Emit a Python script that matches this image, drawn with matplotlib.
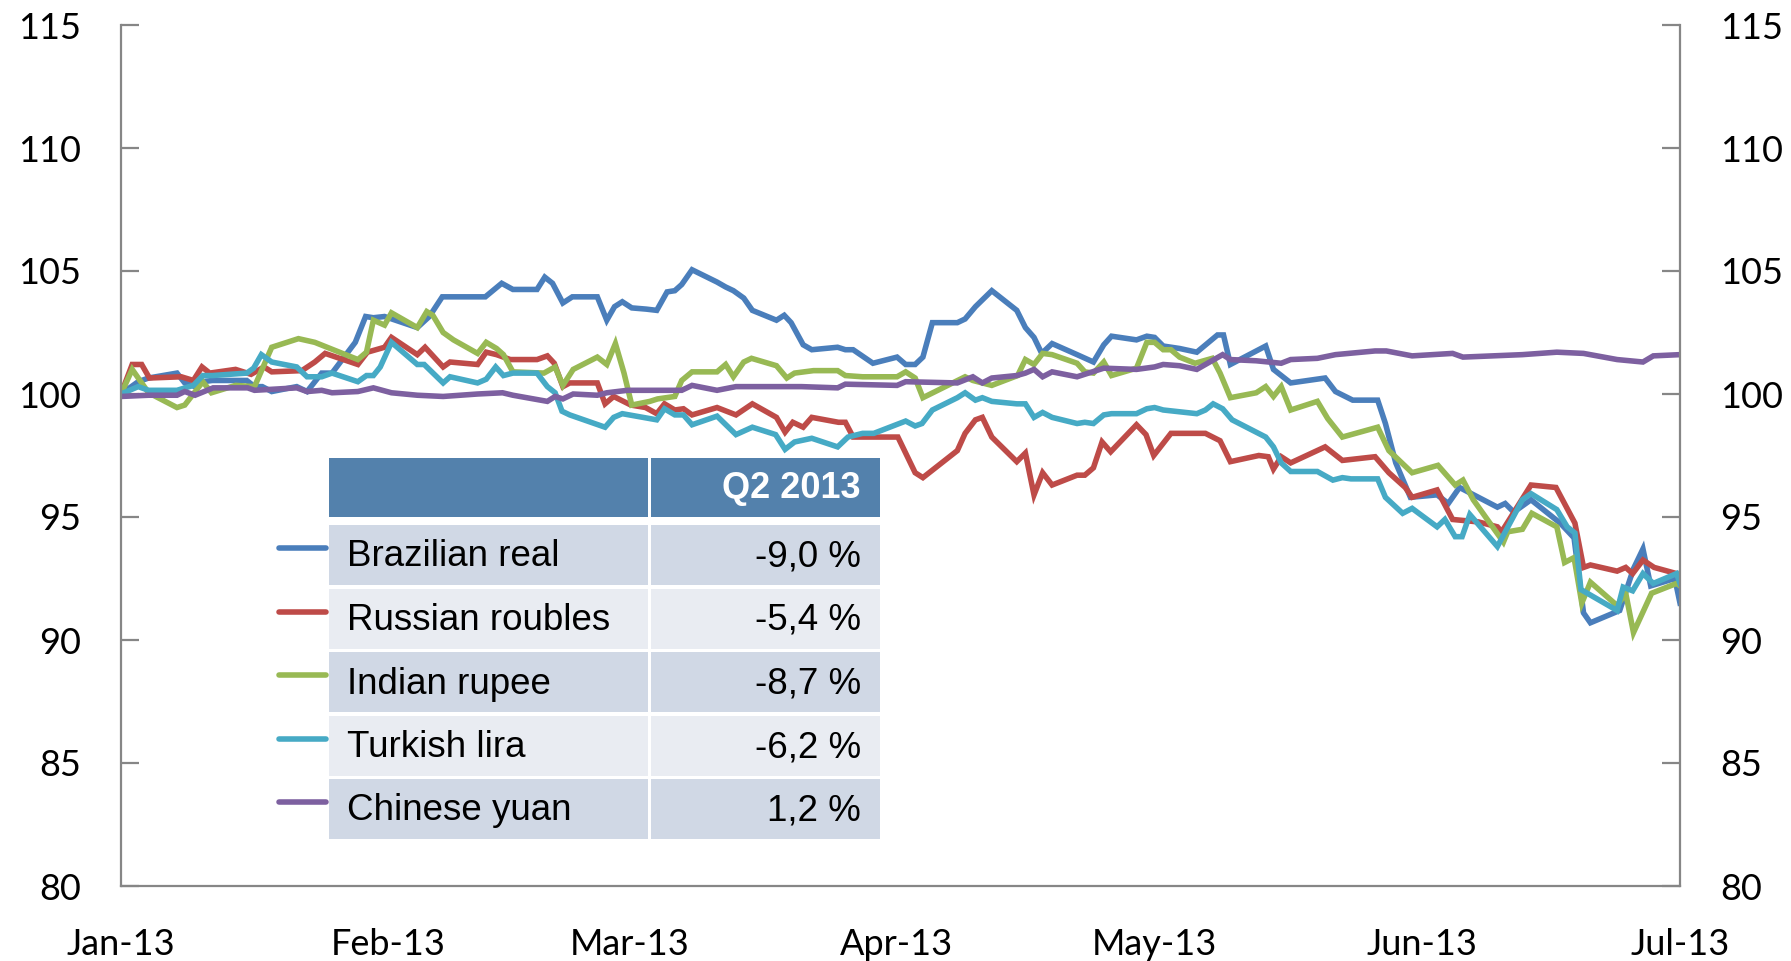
import pandas as pd
import matplotlib.pyplot as plt
from matplotlib.patches import Rectangle

# index, 1 Jan 2013 = 100; x values are days after 1 Jan 2013
START = pd.Timestamp('2013-01-01')
END = pd.Timestamp('2013-07-01')

brl_days = [0, 2.0, 3.2, 6.5, 7.4, 8.6, 9.5, 10.6, 14.6, 15.5, 16.4, 17.5, 20.4, 21.6, 23.3, 24.5,
            27.2, 28.4, 29.3, 30.6, 34.4, 35.8, 37.3, 42.3, 44.2, 45.5, 48.3, 49.2, 50.1, 51.3,
            52.4, 55.3, 56.4, 57.3, 58.2, 59.3, 61.0, 62.2, 63.4, 64.3, 65.1, 66.3, 69.2, 70.2,
            71.1, 72.3, 73.3, 76.1, 77.0, 77.8, 79.2, 80.2, 83.2, 84.1, 85.0, 87.3, 90.1, 91.1,
            92.2, 93.1, 94.2, 97.1, 98.0, 99.2, 101.1, 104.0, 105.0, 106.0, 106.9, 108.1, 111.0,
            112.9, 114.1, 115.0, 117.9, 119.1, 120.0, 121.0, 122.9, 124.9, 127.3, 128.0, 128.8,
            132.9, 133.8, 135.8, 139.8, 141.0, 143.0, 145.9, 146.8, 148.0, 149.7, 152.8, 154.1,
            155.4, 159.8, 160.7, 161.7, 163.7, 167.1, 168.7, 169.8, 170.6, 174.0, 175.6, 176.7,
            177.6, 180.4, 181]
brl_vals = [100.0, 100.5, 100.65, 100.85, 100.45, 100.3, 100.5, 100.55, 100.55, 100.3, 100.3, 100.1,
            100.3, 100.1, 100.85, 100.85, 102.1, 103.15, 103.1, 103.15, 102.7, 103.15, 103.95,
            103.95, 104.5, 104.25, 104.25, 104.75, 104.5, 103.7, 103.95, 103.95, 103.0, 103.55,
            103.75, 103.5, 103.45, 103.4, 104.15, 104.2, 104.45, 105.05, 104.55, 104.35, 104.2,
            103.9, 103.4, 103.0, 103.2, 102.9, 102.0, 101.8, 101.9, 101.8, 101.8, 101.25, 101.5,
            101.2, 101.2, 101.5, 102.9, 102.9, 103.05, 103.55, 104.2, 103.4, 102.7, 102.3, 101.65,
            102.05, 101.6, 101.3, 102.0, 102.35, 102.2, 102.35, 102.3, 101.95, 101.85, 101.7,
            102.4, 102.4, 101.2, 101.95, 101.0, 100.45, 100.65, 100.1, 99.75, 99.75, 98.8, 97.2,
            95.8, 95.9, 95.55, 96.2, 95.4, 95.55, 95.2, 95.7, 94.75, 94.15, 91.1, 90.7, 91.2,
            92.9, 93.7, 92.2, 92.5, 91.5]

rub_days = [0, 1.3, 2.4, 3.3, 7.0, 8.4, 9.4, 10.3, 13.3, 15.1, 16.6, 17.5, 21.0, 22.5, 23.7, 27.5,
            28.6, 30.6, 31.4, 34.4, 35.3, 37.4, 38.2, 41.4, 42.4, 43.6, 45.2, 48.3, 49.5, 50.3,
            51.3, 52.1, 55.3, 56.2, 57.2, 59.2, 60.9, 62.2, 63.1, 64.3, 65.3, 66.3, 69.2, 71.4,
            73.3, 76.1, 77.1, 78.0, 79.2, 80.2, 83.3, 84.1, 85.0, 90.2, 92.2, 93.1, 97.1, 98.0,
            99.2, 100.0, 101.1, 104.0, 105.0, 106.0, 107.0, 108.1, 111.0, 111.9, 112.9, 113.9,
            114.9, 117.9, 119.0, 119.9, 121.9, 125.9, 127.6, 128.8, 132.1, 133.2, 133.8, 134.7,
            135.8, 139.8, 141.8, 145.6, 147.2, 149.1, 149.9, 152.8, 154.6, 157.6, 159.8, 160.3,
            163.7, 166.6, 168.8, 169.8, 170.6, 173.7, 174.7, 175.5, 176.7, 178.0, 180.6, 181]
rub_vals = [100.0, 101.2, 101.2, 100.65, 100.7, 100.55, 101.1, 100.85, 101.0, 100.8, 101.1, 100.9,
            100.95, 101.3, 101.65, 101.2, 101.7, 101.9, 102.3, 101.6, 101.9, 101.1, 101.3, 101.2,
            101.7, 101.6, 101.4, 101.4, 101.55, 101.25, 100.3, 100.45, 100.45, 99.6, 99.9, 99.55,
            99.45, 99.2, 99.6, 99.35, 99.4, 99.15, 99.45, 99.15, 99.6, 99.05, 98.45, 98.85, 98.65,
            99.05, 98.85, 98.85, 98.25, 98.25, 96.8, 96.6, 97.7, 98.4, 98.95, 99.05, 98.25, 97.25,
            97.6, 95.9, 96.8, 96.3, 96.7, 96.7, 97.0, 98.05, 97.65, 98.75, 98.35, 97.5, 98.4, 98.4,
            98.1, 97.25, 97.5, 97.45, 96.95, 97.45, 97.2, 97.85, 97.3, 97.45, 96.8, 96.2, 95.8,
            96.1, 94.9, 94.8, 94.6, 94.4, 96.3, 96.2, 94.75, 92.95, 93.05, 92.8, 92.95, 92.7,
            93.25, 92.95, 92.7, 92.4]

inr_days = [0, 1.3, 3.2, 6.5, 7.4, 9.5, 10.5, 13.3, 15.5, 17.5, 20.6, 22.5, 27.5, 28.5, 29.3, 30.6,
            31.4, 34.4, 35.5, 36.2, 37.4, 38.6, 41.4, 42.4, 43.6, 44.4, 45.5, 49.1, 50.4, 51.3,
            52.5, 55.3, 56.4, 57.4, 58.4, 59.3, 61.4, 62.3, 64.3, 65.1, 66.3, 69.2, 70.2, 71.1,
            72.3, 73.2, 76.1, 77.3, 78.2, 80.4, 83.2, 84.1, 86.1, 90.1, 91.1, 92.2, 93.1, 98.0,
            98.9, 101.1, 104.1, 105.0, 106.0, 107.0, 108.1, 111.0, 111.9, 112.9, 114.1, 115.0,
            117.9, 119.1, 120.0, 121.0, 121.9, 122.9, 124.7, 126.7, 127.6, 128.8, 131.8, 132.9,
            133.8, 134.7, 135.8, 138.9, 140.1, 141.8, 145.9, 147.2, 149.9, 152.9, 154.9, 155.8,
            157.0, 160.5, 161.0, 162.7, 163.8, 166.7, 167.6, 168.7, 169.6, 170.6, 173.7, 174.7,
            175.6, 177.7, 180.6, 181]
inr_vals = [100.0, 101.0, 100.05, 99.45, 99.55, 100.5, 100.05, 100.35, 100.3, 101.9, 102.25, 102.1,
            101.4, 101.7, 103.0, 102.8, 103.3, 102.7, 103.35, 103.2, 102.5, 102.2, 101.65, 102.1,
            101.85, 101.6, 100.9, 100.85, 101.1, 100.35, 101.0, 101.5, 101.2, 102.05, 100.85,
            99.55, 99.7, 99.8, 99.9, 100.55, 100.9, 100.9, 101.2, 100.7, 101.3, 101.45, 101.15,
            100.65, 100.85, 100.95, 100.95, 100.75, 100.7, 100.7, 100.9, 100.65, 99.85, 100.7,
            100.55, 100.35, 100.75, 101.4, 101.2, 101.65, 101.6, 101.25, 100.9, 100.85, 101.3,
            100.75, 101.05, 102.1, 102.1, 101.8, 101.8, 101.5, 101.25, 101.45, 100.85, 99.85,
            100.05, 100.3, 99.9, 100.3, 99.35, 99.7, 99.0, 98.25, 98.65, 97.7, 96.8, 97.1, 96.3,
            96.5, 95.7, 93.98, 94.4, 94.5, 95.15, 94.6, 93.15, 93.35, 91.5, 92.35, 91.4, 91.9,
            90.3, 91.9, 92.3, 92.2]

try_days = [0, 2.0, 3.2, 6.5, 8.4, 9.5, 10.6, 14.6, 15.4, 16.3, 17.5, 20.4, 21.6, 23.3, 24.5, 27.5,
            28.5, 29.3, 30.1, 31.4, 34.4, 35.2, 37.4, 38.2, 41.4, 42.4, 43.5, 44.4, 45.5, 48.3,
            49.5, 50.4, 51.2, 52.1, 56.2, 57.2, 58.2, 61.4, 62.2, 63.1, 64.3, 65.3, 66.3, 69.2,
            71.4, 73.3, 76.0, 77.1, 78.2, 80.2, 83.2, 84.4, 86.1, 87.4, 91.1, 92.2, 93.0, 94.2,
            97.1, 98.0, 99.2, 100.0, 101.1, 104.0, 105.0, 106.0, 107.0, 108.1, 111.0, 111.9,
            112.9, 114.1, 115.0, 117.9, 119.1, 120.0, 121.0, 124.9, 125.9, 126.8, 127.9, 129.0,
            132.9, 133.8, 134.7, 135.8, 138.9, 140.7, 141.8, 142.8, 145.9, 146.8, 148.8, 149.9,
            152.8, 153.7, 154.9, 155.7, 156.6, 159.8, 162.7, 163.7, 166.7, 167.9, 168.8, 169.5,
            173.7, 174.4, 175.5, 176.7, 177.9, 180.6, 181]
try_vals = [100.0, 100.3, 100.15, 100.15, 100.35, 100.75, 100.75, 100.85, 101.05, 101.6, 101.3,
            101.1, 100.7, 100.7, 100.85, 100.5, 100.75, 100.75, 101.1, 102.1, 101.2, 101.2,
            100.45, 100.7, 100.45, 100.6, 101.1, 100.75, 100.85, 100.85, 100.3, 100.05, 99.3,
            99.15, 98.65, 99.05, 99.2, 99.0, 98.95, 99.4, 99.15, 99.15, 98.75, 99.1, 98.35, 98.65,
            98.35, 97.75, 98.05, 98.2, 97.85, 98.25, 98.4, 98.4, 98.9, 98.7, 98.8, 99.35, 99.85,
            100.05, 99.75, 99.85, 99.7, 99.6, 99.6, 99.05, 99.25, 99.05, 98.8, 98.85, 98.8, 99.15,
            99.2, 99.2, 99.4, 99.45, 99.35, 99.2, 99.35, 99.6, 99.4, 98.95, 98.25, 97.85, 97.2,
            96.85, 96.85, 96.5, 96.6, 96.55, 96.55, 95.8, 95.15, 95.35, 94.6, 94.9, 94.2, 94.2,
            95.1, 93.8, 95.7, 95.95, 95.3, 94.6, 94.35, 92.05, 91.2, 92.15, 92.0, 92.7, 92.3,
            92.7, 92.3]

cny_days = [0, 3.2, 6.5, 7.4, 8.6, 10.7, 14.7, 15.5, 20.4, 21.6, 23.3, 24.5, 27.5, 29.3, 31.4, 34.4,
            37.4, 41.4, 44.3, 45.5, 49.5, 50.4, 51.3, 52.5, 55.3, 56.4, 58.8, 65.1, 66.3, 69.2,
            71.4, 79.0, 83.2, 84.1, 90.1, 91.1, 97.1, 98.9, 100.0, 101.1, 104.0, 105.0, 106.0,
            107.0, 108.1, 111.0, 114.1, 117.9, 120.0, 121.0, 122.9, 124.9, 127.9, 128.8, 131.8,
            134.7, 135.8, 138.9, 141.0, 145.6, 146.9, 149.9, 154.6, 155.8, 162.7, 166.7, 169.8,
            173.7, 176.7, 177.9, 181]
cny_vals = [99.9, 99.95, 99.95, 100.1, 99.95, 100.25, 100.25, 100.15, 100.25, 100.1, 100.15, 100.05,
            100.1, 100.25, 100.05, 99.95, 99.9, 100.0, 100.05, 99.95, 99.7, 99.9, 99.8, 100.0,
            99.95, 100.05, 100.15, 100.15, 100.35, 100.15, 100.3, 100.3, 100.25, 100.4, 100.35,
            100.5, 100.45, 100.7, 100.45, 100.65, 100.75, 100.85, 101.0, 100.7, 100.9, 100.7,
            101.05, 101.0, 101.1, 101.2, 101.15, 101.0, 101.6, 101.4, 101.35, 101.25, 101.4,
            101.45, 101.6, 101.75, 101.75, 101.55, 101.65, 101.5, 101.6, 101.7, 101.65, 101.4,
            101.3, 101.55, 101.6]

names = ['Brazilian real', 'Russian roubles', 'Indian rupee', 'Turkish lira', 'Chinese yuan']
changes = ['-9,0 %', '-5,4 %', '-8,7 %', '-6,2 %', '1,2 %']
table_header = 'Q2 2013'
colors = ['#4A7EBB', '#BE4B48', '#98B954', '#46AAC5', '#7D60A0']

series = [(brl_days, brl_vals), (rub_days, rub_vals), (inr_days, inr_vals),
          (try_days, try_vals), (cny_days, cny_vals)]


def to_dates(days):
    return START + pd.to_timedelta(days, unit='D')


W, H = 1791, 961
fig = plt.figure(figsize=(W / 100, H / 100), dpi=100)
ax = fig.add_axes([121 / W, 1 - 886 / H, (1680 - 121) / W, (886 - 25) / H])

for (d, v), c in zip(series, colors):
    ax.plot(to_dates(d), v, color=c, lw=4.0, solid_joinstyle='miter')

grey = '#868686'
ax.set_ylim(80, 115)
ax.set_yticks(range(80, 116, 5))
ax.set_xlim(START, END)
months = pd.date_range(START, END, freq='MS')
ax.set_xticks(months)
ax.set_xticklabels([m.strftime('%b-%y') for m in months])

for s in ['left', 'right', 'bottom']:
    ax.spines[s].set_color(grey)
    ax.spines[s].set_linewidth(1.6)
ax.spines['top'].set_visible(False)

ax.tick_params(axis='y', which='both', direction='in', length=13, width=1.6, color=grey,
               left=True, right=True, labelleft=True, labelright=True, pad=29,
               labelsize=26)
ax.tick_params(axis='x', length=0, pad=30, labelsize=26)
for lab in ax.get_xticklabels() + ax.get_yticklabels():
    lab.set_fontfamily('Lato')

# table with legend, drawn in pixel coordinates
ov = fig.add_axes([0, 0, 1, 1], zorder=5)
ov.set_xlim(0, W)
ov.set_ylim(H, 0)
ov.axis('off')
ov.patch.set_alpha(0)

x0, xs, x1 = 329, 649, 880
ov.add_patch(Rectangle((x0, 458), xs - x0 - 1.5, 59, color='#5381AC', lw=0))
ov.add_patch(Rectangle((xs + 1.5, 458), x1 - xs - 1.5, 59, color='#5381AC', lw=0))
ov.text(861, 489, table_header, color='white', fontsize=26, fontweight='bold',
        family='Liberation Sans', ha='right', va='center')

for i, (nm, ch, c) in enumerate(zip(names, changes, colors)):
    top = 525 + i * 63.5
    fc = '#D0D8E5' if i % 2 == 0 else '#E9ECF2'
    ov.add_patch(Rectangle((x0, top), xs - x0 - 1.5, 60, color=fc, lw=0))
    ov.add_patch(Rectangle((xs + 1.5, top), x1 - xs - 1.5, 60, color=fc, lw=0))
    yc = top + 30
    ov.plot([279, 326], [yc - 7, yc - 7], color=c, lw=4.0, solid_capstyle='round')
    ov.text(347, yc + 2, nm, fontsize=26.5, family='Liberation Sans', ha='left', va='center')
    ov.text(861, yc + 2, ch, fontsize=26.5, family='Liberation Sans', ha='right', va='center')

fig.savefig('out.png', dpi=100)
